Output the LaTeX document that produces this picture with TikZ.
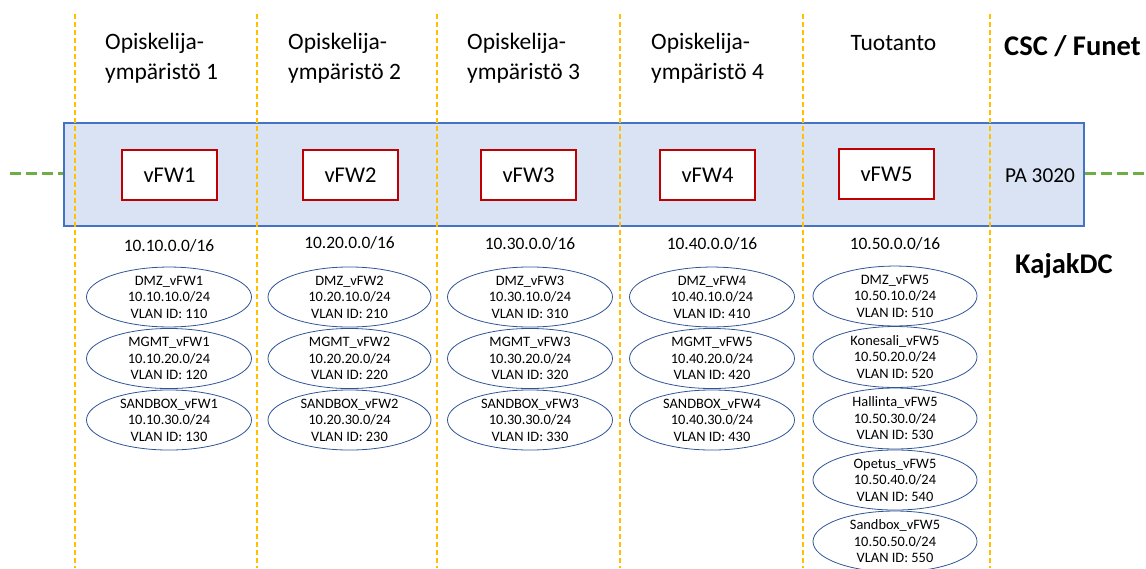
\documentclass[tikz,border=0pt]{standalone}
\usepackage{fontspec}
\setmainfont{Carlito}
\usetikzlibrary{shapes.geometric}
\definecolor{zoneline}{HTML}{FFC000}
\definecolor{uplink}{HTML}{70AD47}
\definecolor{pafill}{HTML}{DAE3F3}
\definecolor{padraw}{HTML}{4472C4}
\definecolor{fwred}{HTML}{C00000}
\definecolor{netblue}{HTML}{2F5597}
\tikzset{
  zonesep/.style={draw=zoneline, line width=1.2pt, dash pattern=on 5pt off 3pt},
  uplinkline/.style={draw=uplink, line width=3pt, dash pattern=on 11pt off 5pt},
  pabox/.style={draw=padraw, fill=pafill, line width=1.5pt},
  fwbox/.style={draw=fwred, fill=white, line width=1.5pt, minimum width=95pt, minimum height=50pt, inner sep=0pt, font=\fontsize{22.5}{26}\selectfont},
  envtitle/.style={anchor=base west, inner sep=0pt, align=left, font=\fontsize{23.5}{29.5}\selectfont},
  sitetitle/.style={anchor=base west, inner sep=0pt, font=\fontsize{28.5}{32}\selectfont\bfseries},
  subnet/.style={anchor=base, inner sep=0pt, font=\fontsize{17.4}{20}\selectfont},
  vlan/.style={ellipse, draw=netblue, line width=0.8pt, minimum width=165pt, minimum height=58pt, inner sep=0pt, align=center, font=\fontsize{14.4}{16.5}\selectfont},
}
\begin{document}
\begin{tikzpicture}[x=1pt,y=-1pt]
\useasboundingbox (0,0) rectangle (1146,568);

% PA 3020 chassis band with its uplinks
\node[pabox, minimum width=1020pt, minimum height=103pt, inner sep=0pt, anchor=north west] (pa) at (63,122) {};
\coordinate (upl) at (10,173);
\coordinate (upr) at (1146,173);
\draw[uplinkline] (upl) -- (pa.west |- upl);
\draw[uplinkline] (pa.east |- upr) -- (upr);
\node[anchor=base, inner sep=0pt, font=\fontsize{21.3}{24}\selectfont] (palabel) at (1040,182) {PA 3020};

% zone separators
\foreach \x/\n in {75/a,257/b,437/c,620/d,803/e,990/f}{
  \coordinate (z\n t) at (\x,14);
  \coordinate (z\n b) at (\x,568);
  \draw[zonesep] (z\n t) -- (z\n b);
}

% zone titles (base anchor sits on the second line)
\node[envtitle] (t1) at (105,79) {Opiskelija-\\ympäristö 1};
\node[envtitle] (t2) at (288,79) {Opiskelija-\\ympäristö 2};
\node[envtitle] (t3) at (467,79) {Opiskelija-\\ympäristö 3};
\node[envtitle] (t4) at (651,79) {Opiskelija-\\ympäristö 4};
\node[anchor=base, inner sep=0pt, font=\fontsize{23.5}{29.5}\selectfont] (t5) at (893.5,50) {Tuotanto};
\node[sitetitle] (csc) at (1004,55) {CSC / Funet};
\node[sitetitle] (kajak) at (1015,273) {KajakDC};

% virtual firewalls
\node[fwbox] (fw1) at (169.5,175) {vFW1};
\node[fwbox] (fw2) at (350.5,175) {vFW2};
\node[fwbox] (fw3) at (528.5,175) {vFW3};
\node[fwbox] (fw4) at (707.5,175) {vFW4};
\node[fwbox] (fw5) at (886.5,174) {vFW5};

% address ranges
\node[subnet] (n1) at (169,251) {10.10.0.0/16};
\node[subnet] (n2) at (349.5,248) {10.20.0.0/16};
\node[subnet] (n3) at (530,249) {10.30.0.0/16};
\node[subnet] (n4) at (712,249) {10.40.0.0/16};
\node[subnet] (n5) at (895,249) {10.50.0.0/16};

% VLAN segments
\node[vlan] (s11) at (169,297) {DMZ\_vFW1\\10.10.10.0/24\\VLAN ID: 110};
\node[vlan] (s12) at (169,358.5) {MGMT\_vFW1\\10.10.20.0/24\\VLAN ID: 120};
\node[vlan] (s13) at (169,420) {SANDBOX\_vFW1\\10.10.30.0/24\\VLAN ID: 130};

\node[vlan, minimum width=163pt] (s21) at (349.5,297) {DMZ\_vFW2\\10.20.10.0/24\\VLAN ID: 210};
\node[vlan, minimum width=163pt] (s22) at (349.5,358.5) {MGMT\_vFW2\\10.20.20.0/24\\VLAN ID: 220};
\node[vlan, minimum width=163pt] (s23) at (349.5,420) {SANDBOX\_vFW2\\10.20.30.0/24\\VLAN ID: 230};

\node[vlan] (s31) at (530,297) {DMZ\_vFW3\\10.30.10.0/24\\VLAN ID: 310};
\node[vlan] (s32) at (530,358.5) {MGMT\_vFW3\\10.30.20.0/24\\VLAN ID: 320};
\node[vlan] (s33) at (530,420) {SANDBOX\_vFW3\\10.30.30.0/24\\VLAN ID: 330};

\node[vlan] (s41) at (712,297) {DMZ\_vFW4\\10.40.10.0/24\\VLAN ID: 410};
\node[vlan] (s42) at (712,358.5) {MGMT\_vFW5\\10.40.20.0/24\\VLAN ID: 420};
\node[vlan] (s43) at (712,420) {SANDBOX\_vFW4\\10.40.30.0/24\\VLAN ID: 430};

\node[vlan, minimum width=164pt] (s51) at (895,296) {DMZ\_vFW5\\10.50.10.0/24\\VLAN ID: 510};
\node[vlan, minimum width=164pt] (s52) at (895,357) {Konesali\_vFW5\\10.50.20.0/24\\VLAN ID: 520};
\node[vlan, minimum width=164pt] (s53) at (895,418.5) {Hallinta\_vFW5\\10.50.30.0/24\\VLAN ID: 530};
\node[vlan, minimum width=164pt] (s54) at (895,480) {Opetus\_vFW5\\10.50.40.0/24\\VLAN ID: 540};
\node[vlan, minimum width=164pt] (s55) at (895,541.5) {Sandbox\_vFW5\\10.50.50.0/24\\VLAN ID: 550};
\end{tikzpicture}
\end{document}
